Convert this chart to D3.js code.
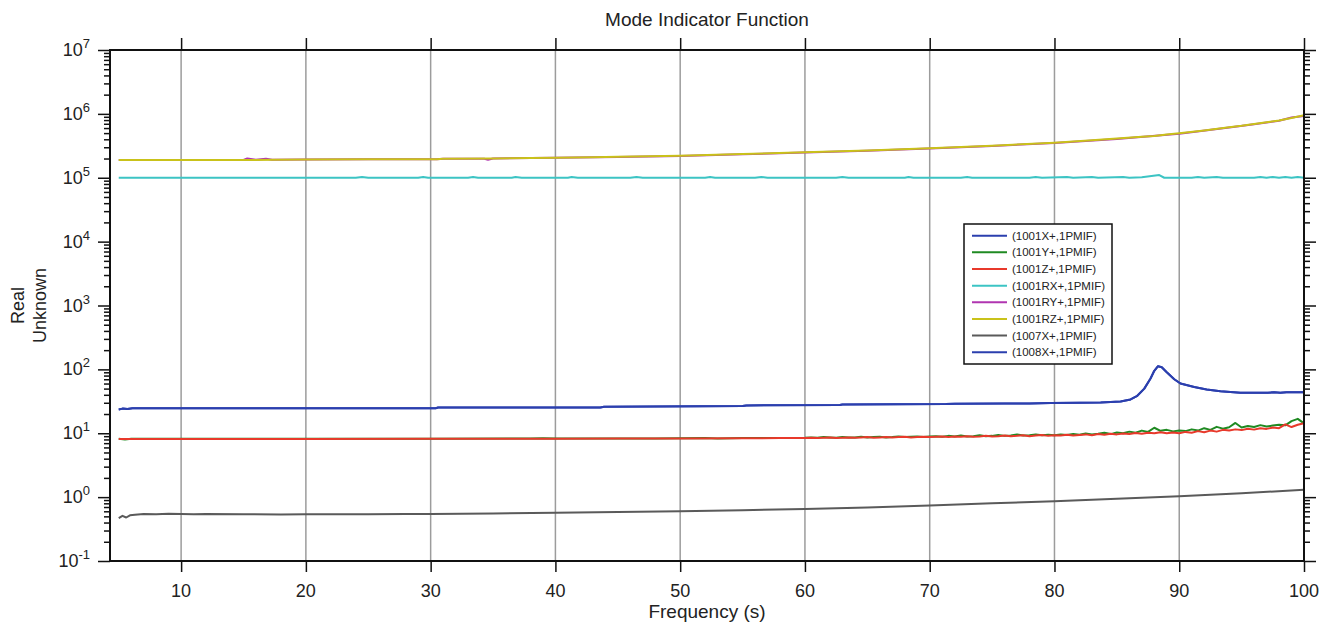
<!DOCTYPE html>
<html>
<head>
<meta charset="utf-8">
<script src="https://cdn.jsdelivr.net/npm/d3@7"></script>
<style>
  html, body { margin: 0; padding: 0; background: #fff; }
  svg { display: block; font-family: "Liberation Sans", Arial, sans-serif; }
</style>
</head>
<body>
<svg id="chart" width="1331" height="626"></svg>
<script>
// ---- Data: [frequency, value] pairs per measurement channel ----
const xTicks = [10, 20, 30, 40, 50, 60, 70, 80, 90, 100];
const yExponents = [-1, 0, 1, 2, 3, 4, 5, 6, 7];

const mif1001X = [[5,23.6],[5.3,24.3],[5.7,23.9],[6.1,24.6],[30.4,24.6],[30.6,25.3],[43.6,25.3],[43.9,26.0],[51.6,26.4],[55,26.7],[55.3,27.3],[62.8,27.6],[63,28.1],[71.3,28.6],[72,29.0],[76,29.3],[78,29.1],[79.7,29.8],[82,30.1],[83.7,30.4],[85.3,31.3],[86.1,33.8],[86.6,38],[87.2,50],[87.7,72],[88.0,95],[88.3,112],[88.6,108],[89.0,90],[89.6,70],[90.1,60],[91.2,53],[92.2,48.5],[93.3,45.5],[94.9,43.2],[97.1,43.0],[97.6,43.8],[98.1,43.2],[98.6,43.9],[100,44.0]];

const mif1001Y = [[5,8.2],[5.5,8.0],[6,8.2],[10,8.2],[20,8.2],[30,8.2],[38,8.25],[39,8.35],[40,8.25],[45,8.3],[48,8.3],[50,8.35],[52,8.45],[53,8.3],[55,8.4],[58,8.45],
  [60,8.5],[60.5,8.6],[61,8.5],[61.5,8.7],[62,8.6],[62.5,8.5],[63,8.7],[63.5,8.6],[64,8.6],[64.5,8.8],[65,8.6],[65.5,8.7],[66,8.8],[66.5,8.6],[67,8.7],[67.5,8.9],[68,8.7],[68.5,8.8],[69,8.9],[69.5,8.7],
  [70,8.9],[70.5,9.0],[71,8.8],[71.5,9.1],[72,8.9],[72.5,9.2],[73,8.9],[73.5,9.0],[74,9.3],[74.5,9.0],[75,9.1],[75.5,9.4],[76,9.1],[76.5,9.2],[77,9.6],[77.5,9.2],[78,9.3],[78.5,9.6],[79,9.3],[79.5,9.5],
  [80,9.3],[80.5,9.6],[81,9.4],[81.5,9.7],[82,9.5],[82.5,9.9],[83,9.6],[83.5,9.8],[84,10.2],[84.5,9.7],[85,10.3],[85.5,10.0],[86,10.6],[86.5,10.2],[87,11.0],[87.5,10.5],[88,12.2],[88.5,10.9],[89,11.3],[89.5,10.7],
  [90,11.0],[90.5,10.8],[91,11.5],[91.5,11.0],[92,12.0],[92.5,11.3],[93,12.6],[93.5,11.8],[94,12.4],[94.5,14.5],[95,12.3],[95.5,13.0],[96,12.5],[96.5,13.4],[97,12.8],[97.5,13.2],[98,13.6],[98.5,13.3],[99,15.5],[99.5,16.8],[100,14.3]];

const mif1001Z = [[5,8.1],[10,8.15],[20,8.15],[30,8.2],[40,8.2],[45,8.25],[50,8.3],[55,8.35],[58,8.4],
  [60,8.4],[60.5,8.5],[61,8.4],[61.5,8.5],[62,8.6],[62.5,8.4],[63,8.5],[63.5,8.6],[64,8.5],[64.5,8.6],[65,8.7],[65.5,8.5],[66,8.6],[66.5,8.7],[67,8.6],[67.5,8.7],[68,8.8],[68.5,8.6],[69,8.7],[69.5,8.8],
  [70,8.7],[70.5,8.8],[71,8.9],[71.5,8.7],[72,8.9],[72.5,8.8],[73,9.0],[73.5,8.8],[74,8.9],[74.5,9.1],[75,8.9],[75.5,9.0],[76,9.2],[76.5,9.0],[77,9.1],[77.5,9.3],[78,9.0],[78.5,9.2],[79,9.4],[79.5,9.1],
  [80,9.3],[80.5,9.2],[81,9.5],[81.5,9.2],[82,9.4],[82.5,9.6],[83,9.3],[83.5,9.7],[84,9.5],[84.5,9.8],[85,9.6],[85.5,9.9],[86,9.7],[86.5,10.1],[87,9.8],[87.5,10.2],[88,10.0],[88.5,10.4],[89,10.0],[89.5,10.3],
  [90,10.0],[90.5,10.5],[91,10.2],[91.5,10.8],[92,10.4],[92.5,11.0],[93,10.6],[93.5,11.3],[94,11.0],[94.5,11.5],[95,11.2],[95.5,11.8],[96,11.4],[96.5,12.0],[97,11.7],[97.5,12.3],[98,12.0],[98.5,13.8],[99,12.5],[99.5,13.6],[100,14.4]];

const mif1001RX = [[5,1.0e5],[24,1.0e5],[24.5,1.03e5],[25,1.0e5],[29,1.0e5],[29.4,1.03e5],[29.8,1.0e5],[33,1.0e5],[33.4,1.03e5],[33.8,1.0e5],[36.5,1.0e5],[36.8,1.03e5],[37.3,1.0e5],[41,1.0e5],[41.3,1.03e5],[41.8,1.0e5],[46,1.0e5],[46.5,1.03e5],[47,1.0e5],[52,1.0e5],[52.4,1.03e5],[52.8,1.0e5],[56,1.0e5],[56.5,1.03e5],[57,1.0e5],[62.5,1.0e5],[63,1.03e5],[63.5,1.0e5],[68,1.0e5],[68.3,1.03e5],[68.7,1.0e5],[72.5,1.0e5],[73,1.03e5],[73.4,1.0e5],[78,1.0e5],[78.5,1.03e5],[79,1.0e5],[81,1.03e5],[81.5,1.0e5],[83,1.03e5],[83.5,1.0e5],[85.5,1.03e5],[86,1.0e5],[87,1.02e5],[88.4,1.1e5],[88.8,1.0e5],[91,1.0e5],[91.5,1.03e5],[92,1.0e5],[93,1.03e5],[93.5,1.0e5],[96,1.0e5],[96.5,1.03e5],[97,1.0e5],[97.5,1.03e5],[98,1.0e5],[98.5,1.03e5],[99,1.0e5],[99.5,1.03e5],[100,1.0e5]];

const mif1001RY = [[5,1.90e5],[15,1.90e5],[15.3,2.0e5],[16,1.91e5],[16.8,1.99e5],[17.3,1.91e5],[20,1.93e5],[25,1.94e5],[30.5,1.95e5],[31,1.98e5],[34.3,1.98e5],[34.6,1.92e5],[35,2.0e5],[40,2.06e5],[45,2.12e5],[50,2.2e5],[55,2.33e5],[60,2.48e5],[65,2.65e5],[70,2.86e5],[75,3.15e5],[80,3.5e5],[85,4.05e5],[90,4.9e5],[94,6.1e5],[96,6.9e5],[98,7.8e5],[99,8.8e5],[100,9.3e5]];

const mif1001RZ = [[5,1.90e5],[10,1.89e5],[15,1.90e5],[17.5,1.91e5],[20,1.93e5],[25,1.94e5],[30.5,1.95e5],[31,1.98e5],[35,2.0e5],[38,2.03e5],[40,2.06e5],[43,2.1e5],[45,2.13e5],[50,2.22e5],[55,2.35e5],[60,2.5e5],[65,2.68e5],[70,2.89e5],[75,3.18e5],[80,3.54e5],[83,3.85e5],[85,4.1e5],[87,4.4e5],[88,4.5e5],[89,4.75e5],[90,4.97e5],[92,5.5e5],[94,6.2e5],[95,6.5e5],[96,6.95e5],[97,7.4e5],[98,7.9e5],[99,8.6e5],[100,9.5e5]];

const mif1007X = [[5,0.47],[5.3,0.51],[5.6,0.48],[5.9,0.52],[6.3,0.53],[7,0.545],[8,0.54],[9,0.55],[10,0.545],[11,0.54],[12,0.545],[15,0.54],[18,0.535],[20,0.54],[25,0.54],[28,0.545],[30,0.545],[35,0.555],[40,0.57],[45,0.585],[50,0.6],[55,0.625],[60,0.65],[65,0.69],[70,0.74],[75,0.8],[80,0.86],[85,0.94],[90,1.03],[95,1.15],[100,1.3]];

// Channel 1008X+ coincides with 1001X+ and is hidden beneath it
const mif1008X = mif1001X;

const seriesNames = ["(1001X+,1PMIF)","(1001Y+,1PMIF)","(1001Z+,1PMIF)","(1001RX+,1PMIF)","(1001RY+,1PMIF)","(1001RZ+,1PMIF)","(1007X+,1PMIF)","(1008X+,1PMIF)"];
const seriesValues = [mif1001X, mif1001Y, mif1001Z, mif1001RX, mif1001RY, mif1001RZ, mif1007X, mif1008X];
const seriesColors = ["#2b3fae","#1f8a22","#e8392b","#3cc4c4","#b035b0","#c9c21a","#5a5a5a","#2b3fae"];

// ---- Layout ----
const svg = d3.select("#chart");
const L = 110, R = 1304, T = 50, B = 561;
const x = d3.scaleLinear().domain([4.3, 100]).range([L, R]);
const y = d3.scaleLog().domain([0.1, 1e7]).range([B, T]);
const textColor = "#222";

// Vertical grid lines
svg.append("g").selectAll("line")
  .data(xTicks.filter(d => d < 100))
  .join("line")
  .attr("x1", d => x(d)).attr("x2", d => x(d))
  .attr("y1", T).attr("y2", B)
  .attr("stroke", "#9c9c9c").attr("stroke-width", 1.5);

// Data lines
svg.append("defs").append("clipPath").attr("id", "plotClip")
  .append("rect").attr("x", L).attr("y", T).attr("width", R - L).attr("height", B - T);

const line = d3.line().x(d => x(d[0])).y(d => y(d[1]));
const drawOrder = [7, 6, 4, 5, 3, 1, 2, 0];
const lines = svg.append("g").attr("clip-path", "url(#plotClip)");
drawOrder.forEach(i => {
  lines.append("path")
    .datum(seriesValues[i])
    .attr("d", line)
    .attr("fill", "none")
    .attr("stroke", seriesColors[i])
    .attr("stroke-width", 2)
    .attr("stroke-linejoin", "round");
});

// Axes (ticks pointing outward on all four sides)
const minorTicks = [];
for (let e = -1; e < 7; e++) for (let m = 2; m <= 9; m++) minorTicks.push(m * Math.pow(10, e));
const majorTicks = yExponents.map(e => Math.pow(10, e));

function styleAxis(g) {
  g.select(".domain").remove();
  g.selectAll(".tick line").attr("stroke", "#111").attr("stroke-width", 1.5);
  g.selectAll(".tick text").remove();
}

svg.append("g").attr("transform", `translate(0,${B})`)
  .call(d3.axisBottom(x).tickValues(xTicks).tickSize(11)).call(styleAxis);
svg.append("g").attr("transform", `translate(0,${T})`)
  .call(d3.axisTop(x).tickValues(xTicks).tickSize(12)).call(styleAxis);
svg.append("g").attr("transform", `translate(${L},0)`)
  .call(d3.axisLeft(y).tickValues(majorTicks).tickSize(12)).call(styleAxis);
svg.append("g").attr("transform", `translate(${L},0)`)
  .call(d3.axisLeft(y).tickValues(minorTicks).tickSize(6)).call(styleAxis);
svg.append("g").attr("transform", `translate(${R},0)`)
  .call(d3.axisRight(y).tickValues(majorTicks).tickSize(12)).call(styleAxis);
svg.append("g").attr("transform", `translate(${R},0)`)
  .call(d3.axisRight(y).tickValues(minorTicks).tickSize(6)).call(styleAxis);

// Frame
svg.append("rect")
  .attr("x", L).attr("y", T).attr("width", R - L).attr("height", B - T)
  .attr("fill", "none").attr("stroke", "#111").attr("stroke-width", 2);

// X tick labels
svg.append("g").selectAll("text")
  .data(xTicks)
  .join("text")
  .attr("x", d => x(d)).attr("y", 597)
  .attr("text-anchor", "middle")
  .attr("font-size", 18).attr("fill", textColor)
  .text(d => d);

// Y tick labels as powers of ten
const yLab = svg.append("g").selectAll("text")
  .data(yExponents)
  .join("text")
  .attr("x", 90).attr("y", d => y(Math.pow(10, d)) + 6)
  .attr("text-anchor", "end")
  .attr("font-size", 18).attr("fill", textColor);
yLab.append("tspan").text("10");
yLab.append("tspan").attr("dy", -8).attr("font-size", 13).text(d => d);

// Titles
svg.append("text")
  .attr("x", (L + R) / 2).attr("y", 26)
  .attr("text-anchor", "middle").attr("font-size", 19).attr("fill", textColor)
  .text("Mode Indicator Function");
svg.append("text")
  .attr("x", (L + R) / 2).attr("y", 618)
  .attr("text-anchor", "middle").attr("font-size", 19).attr("fill", textColor)
  .text("Frequency (s)");
svg.append("text")
  .attr("transform", `translate(24,${(T + B) / 2}) rotate(-90)`)
  .attr("text-anchor", "middle").attr("font-size", 18).attr("fill", textColor)
  .text("Real");
svg.append("text")
  .attr("transform", `translate(46,${(T + B) / 2}) rotate(-90)`)
  .attr("text-anchor", "middle").attr("font-size", 18).attr("fill", textColor)
  .text("Unknown");

// Legend
const lg = svg.append("g").attr("transform", "translate(964,224)");
lg.append("rect").attr("width", 148).attr("height", 140)
  .attr("fill", "#fff").attr("stroke", "#111").attr("stroke-width", 1.5);
const rows = lg.selectAll("g.row")
  .data(seriesNames)
  .join("g").attr("class", "row")
  .attr("transform", (d, i) => `translate(0,${11.7 + i * 16.65})`);
rows.append("line")
  .attr("x1", 8).attr("x2", 43).attr("y1", 0).attr("y2", 0)
  .attr("stroke", (d, i) => seriesColors[i]).attr("stroke-width", 2);
rows.append("text")
  .attr("x", 48).attr("y", 4)
  .attr("font-size", 11.5).attr("fill", textColor)
  .text(d => d);
</script>
</body>
</html>
